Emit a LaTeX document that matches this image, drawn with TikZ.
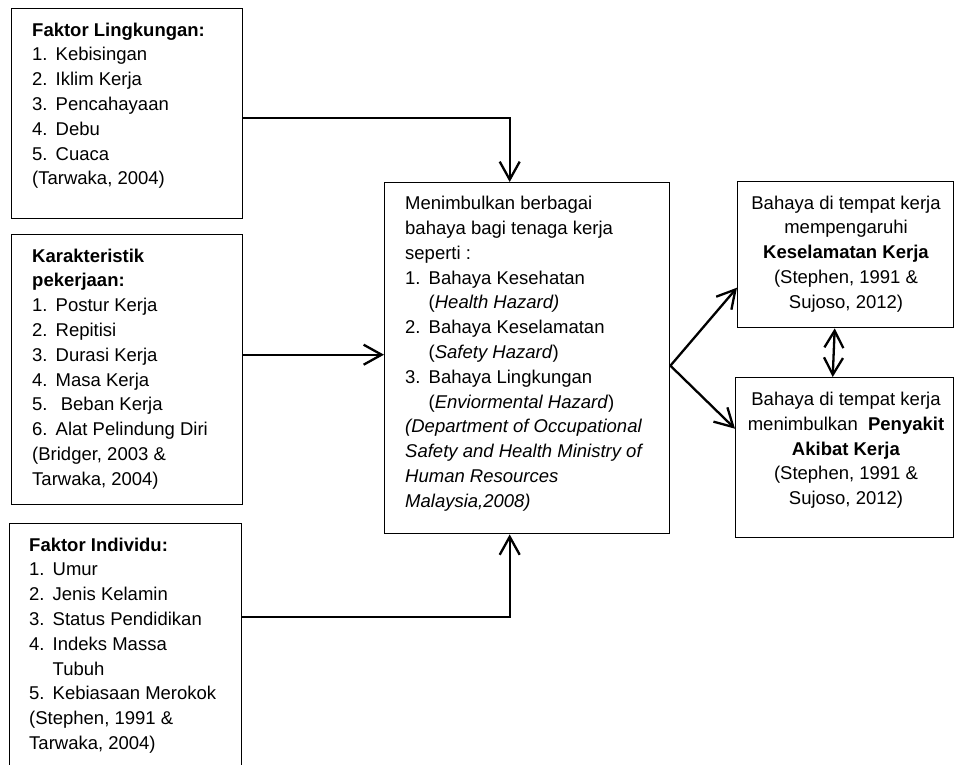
\documentclass[tikz,border=0pt]{standalone}
\usepackage{fontspec}
\setmainfont{Liberation Sans}
\usetikzlibrary{arrows.meta}
\begin{document}
\begin{tikzpicture}[x=1pt,y=-1pt,
  box/.style={draw, line width=1.4pt, inner sep=0pt, anchor=north west},
  txt/.style={inner sep=0pt, align=left, anchor=north west, font=\fontsize{18.5}{24.8}\selectfont},
  ctxt/.style={inner sep=0pt, align=center, anchor=north, font=\fontsize{18.5}{24.8}\selectfont},
  conn/.style={line width=2.3pt, -{Straight Barb[length=18pt,width=20pt]}},
  dconn/.style={line width=2.3pt, {Straight Barb[length=17pt,width=19pt]}-{Straight Barb[length=17pt,width=19pt]}}
]
\useasboundingbox (0,0) rectangle (955,764);
\clip (0,0) rectangle (955,764);
\fill[white] (0,0) rectangle (955,764);
\newcommand\nm[1]{\makebox[23.5pt][l]{#1}}
% boxes
\node[box, minimum width=231pt, minimum height=210pt] (b1) at (11,8) {};
\node[box, minimum width=231pt, minimum height=270pt] (b2) at (11,234) {};
\node[box, minimum width=232pt, minimum height=243pt] (b3) at (9,523) {};
\node[box, minimum width=285pt, minimum height=351pt] (cb) at (384,182) {};
\node[box, minimum width=216pt, minimum height=146pt] (r1) at (737,181) {};
\node[box, minimum width=218pt, minimum height=160pt] (r2) at (735,377) {};
% texts
\node[txt] (t1) at (32,18.6) {\strut\textbf{Faktor Lingkungan:}\\
\nm{1.}Kebisingan\\
\nm{2.}Iklim Kerja\\
\nm{3.}Pencahayaan\\
\nm{4.}Debu\\
\nm{5.}Cuaca\\
(Tarwaka, 2004)};
\node[txt] (t2) at (32,244.6) {\strut\textbf{Karakteristik}\\
\textbf{pekerjaan:}\\
\nm{1.}Postur Kerja\\
\nm{2.}Repitisi\\
\nm{3.}Durasi Kerja\\
\nm{4.}Masa Kerja\\
\nm{5.}\ Beban Kerja\\
\nm{6.}Alat Pelindung Diri\\
(Bridger, 2003 \&\\
Tarwaka, 2004)};
\node[txt] (t3) at (29,533.6) {\strut\textbf{Faktor Individu:}\\
\nm{1.}Umur\\
\nm{2.}Jenis Kelamin\\
\nm{3.}Status Pendidikan\\
\nm{4.}Indeks Massa\\
\nm{}Tubuh\\
\nm{5.}Kebiasaan Merokok\\
(Stephen, 1991 \&\\
Tarwaka, 2004)};
\node[txt] (tc) at (405,192.1) {\strut Menimbulkan berbagai\\
bahaya bagi tenaga kerja\\
seperti :\\
\nm{1.}Bahaya Kesehatan\\
\nm{}(\textit{Health Hazard)}\\
\nm{2.}Bahaya Keselamatan\\
\nm{}(\textit{Safety Hazard})\\
\nm{3.}Bahaya Lingkungan\\
\nm{}(\textit{Enviormental Hazard})\\
\textit{(Department of Occupational}\\
\textit{Safety and Health Ministry of}\\
\textit{Human Resources}\\
\textit{Malaysia,2008)}};
\node[ctxt] (tr1) at (846,191.6) {\strut Bahaya di tempat kerja\\
mempengaruhi\\
\textbf{Keselamatan Kerja}\\
(Stephen, 1991 \&\\
Sujoso, 2012)};
\node[ctxt] (tr2) at (846,387.9) {\strut Bahaya di tempat kerja\\
menimbulkan \ \textbf{Penyakit}\\
\textbf{Akibat Kerja}\\
(Stephen, 1991 \&\\
Sujoso, 2012)};
% connectors
\draw[conn] ([yshift=-4pt]b1.east) -| ([xshift=-17.5pt]cb.north);
\coordinate (a2) at ([yshift=15pt]b2.east);
\draw[conn] (a2) -- (a2 -| cb.west);
\coordinate (a3) at ([yshift=28.5pt]b3.east);
\draw[conn] (a3) -| ([xshift=-17.5pt]cb.south);
\coordinate (j) at ([yshift=-7.5pt]cb.east);
\draw[conn] (j) -- ([yshift=-33pt]r1.west);
\draw[conn] (j) -- ([yshift=29pt]r2.west);
\draw[dconn] ([xshift=-11pt]r1.south) -- ([xshift=-12pt]r2.north);
\end{tikzpicture}
\end{document}
